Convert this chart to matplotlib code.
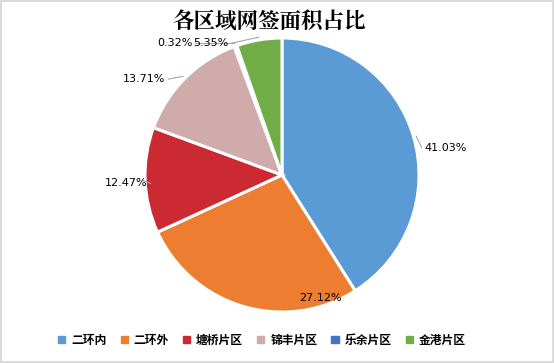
import numpy as np
import matplotlib.pyplot as plt
from matplotlib.patches import Rectangle

plt.rcParams['font.family'] = ['Noto Sans CJK SC', 'DejaVu Sans']

# data
regions = ['二环内', '二环外', '塘桥片区', '锦丰片区', '乐余片区', '金港片区']
shares = [41.03, 27.12, 12.47, 13.71, 0.32, 5.35]
colors = ['#5B9BD5', '#ED7D31', '#CC2A33', '#CFABAC', '#4472C4', '#70AD47']

# label anchors in pie units (radius = 1), alignment, draw leader line
label_xy = [(1.04, 0.20), (0.28, -0.90), (-0.98, -0.06),
            (-0.85, 0.70), (-0.65, 0.96), (-0.52, 0.96)]
label_ha = ['left', 'center', 'right', 'right', 'right', 'center']
leader = [True, False, True, True, True, True]

fig = plt.figure(figsize=(5.55, 3.63), dpi=100)
fig.patches.append(Rectangle((0.002, 0.003), 0.995, 0.993, transform=fig.transFigure,
                             fill=False, edgecolor='#d4d4d4', lw=1.2))

cx, cy, r = 282 / 555, 1 - 175 / 363, 137
ax = fig.add_axes([cx - r / 555, cy - r / 363, 2 * r / 555, 2 * r / 363])
wedges, _ = ax.pie(shares, colors=colors, startangle=90, counterclock=False,
                   radius=1.0, wedgeprops=dict(edgecolor='white', linewidth=2.2))
ax.set_xlim(-1, 1)
ax.set_ylim(-1, 1)
ax.set_aspect('equal')
ax.axis('off')

for w, val, (tx, ty), ha, ld in zip(wedges, shares, label_xy, label_ha, leader):
    mid = np.deg2rad((w.theta1 + w.theta2) / 2)
    ax.text(tx, ty, f'{val:.2f}%', ha=ha, va='center', fontsize=8, family='DejaVu Sans')
    if ld:
        ex, ey = 1.02 * np.cos(mid), 1.02 * np.sin(mid)
        lx = tx - 0.02 if ha == 'left' else (tx + 0.02 if ha == 'right' else tx + 0.14)
        ax.plot([ex, lx], [ey, ty], color='#a6a6a6', lw=0.8, clip_on=False)

fig.text(0.485, 0.937, '各区域网签面积占比', ha='center', va='center',
         fontsize=15.5, fontweight='bold', family=['Noto Serif CJK SC', 'Noto Sans CJK SC'])

handles = [Rectangle((0, 0), 1, 1, color=c) for c in colors]
fig.legend(handles, regions, loc='center', bbox_to_anchor=(0.472, 0.063), ncol=6,
           frameon=False, handlelength=0.6, handleheight=0.6,
           handletextpad=0.5, columnspacing=1.2, prop={'weight': 'bold', 'size': 8.5})

fig.savefig('out.png', dpi=100)
